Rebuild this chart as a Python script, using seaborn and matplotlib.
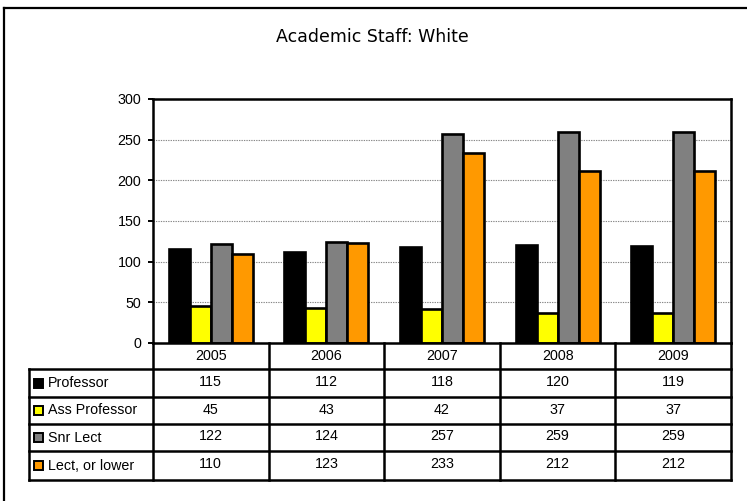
import matplotlib
matplotlib.use("Agg")
import matplotlib.pyplot as plt
from matplotlib.patches import Rectangle
from matplotlib.lines import Line2D
import seaborn as sns
import pandas as pd

years = ["2005", "2006", "2007", "2008", "2009"]
series = ["Professor", "Ass Professor", "Snr Lect", "Lect, or lower"]
professor = [115, 112, 118, 120, 119]
ass_professor = [45, 43, 42, 37, 37]
snr_lect = [122, 124, 257, 259, 259]
lect_or_lower = [110, 123, 233, 212, 212]
colors = ["#000000", "#FFFF00", "#808080", "#FF9900"]
title = "Academic Staff: White"

values = [professor, ass_professor, snr_lect, lect_or_lower]
rows = []
for s, vals in zip(series, values):
    for y, v in zip(years, vals):
        rows.append({"Year": y, "Series": s, "Value": v})
df = pd.DataFrame(rows)

sns.set_theme(style="white")
plt.rcParams["font.family"] = ["Liberation Sans", "DejaVu Sans"]

W, H = 747, 501
FS = 10.3
fig = plt.figure(figsize=(W / 100, H / 100), dpi=100)

# plot area in pixels
L, R, T, B = 153, 731, 99, 343
ax = fig.add_axes([L / W, 1 - B / H, (R - L) / W, (B - T) / H])

sns.barplot(data=df, x="Year", y="Value", hue="Series", order=years,
            hue_order=series, palette=colors, width=0.727, gap=0,
            edgecolor="black", linewidth=1.9, legend=False, ax=ax,
            saturation=1)

ax.set_xlim(-0.5, len(years) - 0.5)
ax.set_ylim(0, 300)
ax.set_yticks([0, 50, 100, 150, 200, 250, 300])
ax.set_xticks([])
ax.set_xlabel("")
ax.set_ylabel("")
ax.yaxis.grid(True, linestyle=(0, (1.2, 1)), color="#888888", linewidth=0.8)
ax.set_axisbelow(True)
for sp in ax.spines.values():
    sp.set_visible(True)
    sp.set_color("black")
    sp.set_linewidth(1.8)
ax.tick_params(axis="y", which="major", left=True, length=3.5, width=1.4,
               color="black", labelsize=FS, pad=5, labelcolor="black")

fig.text(372 / W, 1 - 37 / H, title, ha="center", va="center",
         fontsize=12.5, family=["DejaVu Sans"], color="black")


def fx(x):
    return x / W


def fy(y):
    return 1 - y / H


def hline(x0, x1, y, lw=1.8):
    fig.add_artist(Line2D([fx(x0), fx(x1)], [fy(y), fy(y)], color="black",
                          lw=lw, transform=fig.transFigure, solid_capstyle="projecting"))


def vline(x, y0, y1, lw=1.8):
    fig.add_artist(Line2D([fx(x), fx(x)], [fy(y0), fy(y1)], color="black",
                          lw=lw, transform=fig.transFigure, solid_capstyle="projecting"))


# outer chart border (top and left visible)
hline(4, 760, 8, lw=1.6)
vline(4, 8, 520, lw=1.6)

# data table
tab_left = 29
row_y = [343, 369, 397, 424, 451, 480]
col_w = (R - L) / len(years)
col_x = [L + i * col_w for i in range(len(years) + 1)]

for i, y in enumerate(row_y):
    if i == 0:
        continue
    hline(tab_left, R, y)
for x in col_x:
    vline(x, row_y[0], row_y[-1])
vline(tab_left, row_y[1], row_y[-1])

for j, yr in enumerate(years):
    cx = (col_x[j] + col_x[j + 1]) / 2
    fig.text(fx(cx), fy((row_y[0] + row_y[1]) / 2), yr, ha="center",
             va="center", fontsize=FS, color="black")

for i, (s, vals, c) in enumerate(zip(series, values, colors)):
    cy = (row_y[i + 1] + row_y[i + 2]) / 2
    sw = 9
    fig.add_artist(Rectangle((fx(34), fy(cy + sw / 2)), sw / W, sw / H,
                             facecolor=c, edgecolor="black", lw=1.4,
                             transform=fig.transFigure))
    fig.text(fx(48), fy(cy), s, ha="left", va="center", fontsize=FS,
             color="black")
    for j, v in enumerate(vals):
        cx = (col_x[j] + col_x[j + 1]) / 2
        fig.text(fx(cx), fy(cy - 1), str(v), ha="center", va="center",
                 fontsize=FS, color="black")

fig.savefig("out.png", dpi=100, facecolor="white")
